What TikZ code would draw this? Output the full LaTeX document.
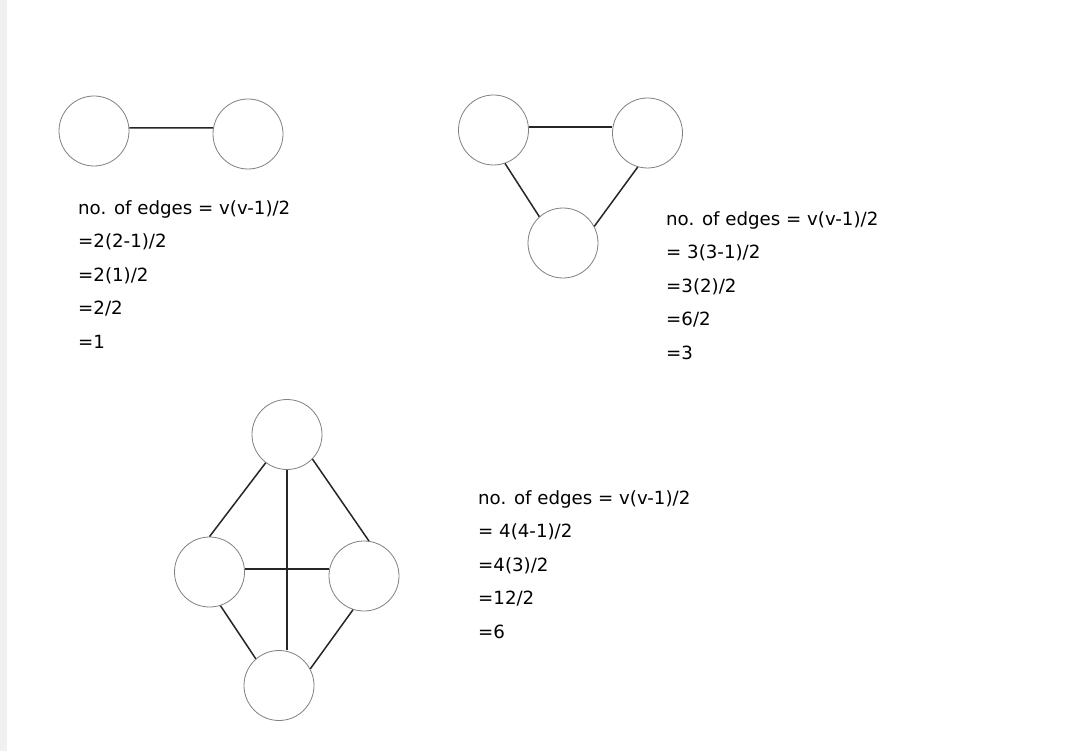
\documentclass[tikz,border=0pt]{standalone}
\usepackage{fontspec}
\setmainfont{DejaVu Sans}
\usepackage{tikz}

\tikzset{
  vertex/.style={circle, draw=black!50, line width=0.8pt, minimum size=70pt, inner sep=0pt},
  link/.style={line width=1.5pt, black!85},
  calc/.style={anchor=north west, inner sep=0pt, align=left,
               font=\fontsize{18.2}{33.5}\selectfont}
}

\begin{document}
\begin{tikzpicture}[x=1pt, y=-1pt]
    % Page
    \useasboundingbox (0,0) rectangle (1089,751);
    \fill[white] (0,0) rectangle (1089,751);
    \fill[black!6] (0,0) rectangle (7,751);

    % Two vertices
    \node[vertex] (a1) at (94,131) {};
    \node[vertex] (a2) at (248,134) {};
    \draw[link] (a1.5) -- (a2.170);
    \node[calc] (t1) at (78,200) {no. of edges = v(v-1)/2\\=2(2-1)/2\\=2(1)/2\\=2/2\\=1};

    % Three vertices
    \node[vertex] (b1) at (493.5,130) {};
    \node[vertex] (b2) at (647.5,133) {};
    \node[vertex] (b3) at (563,243) {};
    \draw[link] (b1.5) -- (b1.5 -| b2.west);
    \draw[link] (b1.289) -- (b3.132);
    \draw[link] (b2.254) -- (b3.28);
    \node[calc] (t2) at (666,211) {no. of edges = v(v-1)/2\\= 3(3-1)/2\\=3(2)/2\\=6/2\\=3};

    % Four vertices
    \node[vertex] (c1) at (287,434.5) {};
    \node[vertex] (c2) at (209.5,572) {};
    \node[vertex] (c3) at (364,576) {};
    \node[vertex] (c4) at (279,685.5) {};
    \draw[link] (c1.233) -- (c2.north);
    \draw[link] (c1.316) -- (c3.82);
    \draw[link] (c2.288) -- (c4.131);
    \draw[link] (c3.252) -- (c4.28);
    \draw[link] (c1.south) -- (c1.south |- c4.north);
    \draw[link] (c2.5) -- (c2.5 -| c3.west);
    \node[calc] (t3) at (478,490) {no. of edges = v(v-1)/2\\= 4(4-1)/2\\=4(3)/2\\=12/2\\=6};
\end{tikzpicture}
\end{document}
